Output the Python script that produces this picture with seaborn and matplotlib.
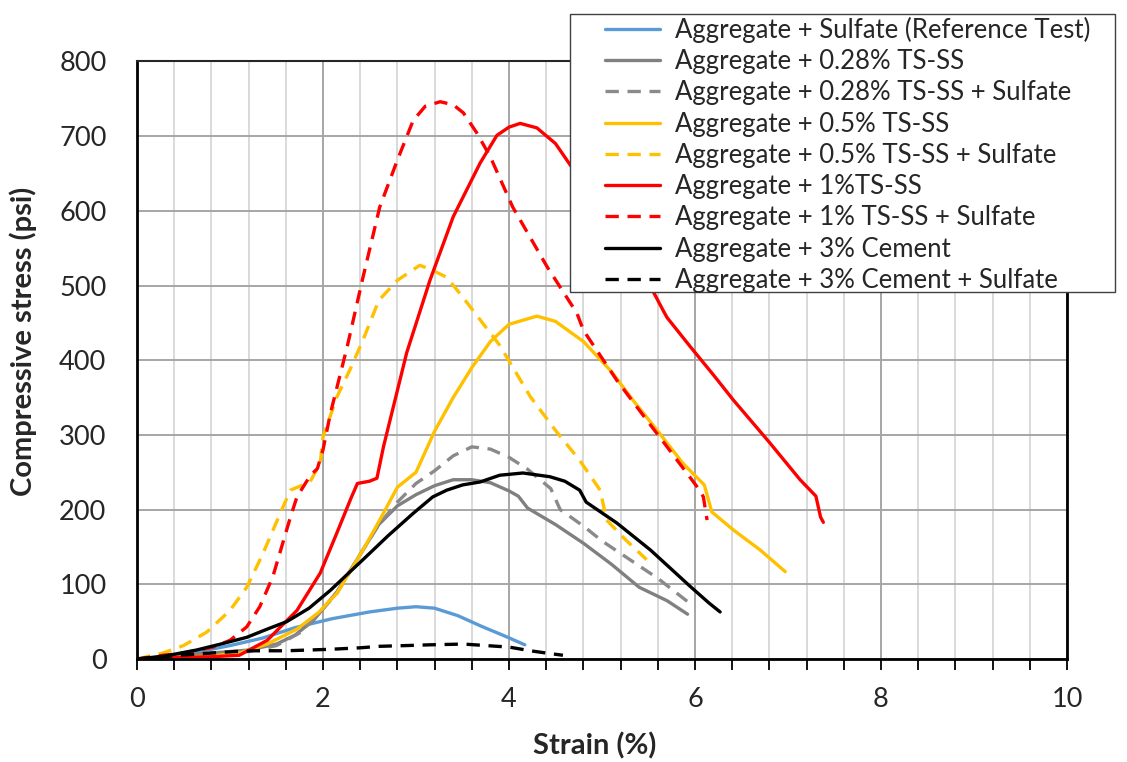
import numpy as np
import pandas as pd

import matplotlib.pyplot as plt
from matplotlib.patches import Rectangle
from matplotlib.ticker import MultipleLocator
import seaborn as sns

# %% data (strain %, stress psi)
ref_x = [0, 0.3, 0.6, 1.0, 1.35, 1.7, 2.1, 2.5, 2.8, 3.0, 3.2, 3.45, 3.7, 3.95, 4.17]
ref_y = [0, 3, 8, 18, 28, 42, 54, 63, 68, 70, 68, 58, 44, 31, 19]

ts028_x = [0, 0.4, 0.8, 1.2, 1.5, 1.7, 1.9, 2.15, 2.4, 2.6, 2.8, 3.0, 3.2, 3.4, 3.6,
           3.8, 4.0, 4.1, 4.2, 4.5, 4.8, 5.1, 5.4, 5.7, 5.92]
ts028_y = [0, 4, 8, 12, 20, 32, 52, 90, 140, 180, 205, 220, 232, 240, 240,
           236, 225, 218, 202, 180, 155, 127, 96, 78, 60]

ts028s_x = [0, 0.4, 0.8, 1.2, 1.5, 1.75, 1.95, 2.15, 2.4, 2.6, 2.8, 3.0, 3.2, 3.4, 3.6,
            3.8, 4.0, 4.2, 4.45, 4.55, 4.8, 5.0, 5.3, 5.6, 5.97]
ts028s_y = [0, 3, 6, 10, 18, 35, 60, 88, 140, 180, 210, 235, 252, 272, 284,
            281, 270, 254, 228, 200, 178, 158, 133, 108, 72]

ts05_x = [0, 0.4, 0.8, 1.1, 1.4, 1.72, 1.95, 2.15, 2.43, 2.61, 2.8, 3.0, 3.08, 3.2, 3.4,
          3.6, 3.8, 4.0, 4.3, 4.5, 4.8, 5.1, 5.33, 5.6, 5.87, 6.1, 6.18, 6.41, 6.7, 6.97]
ts05_y = [0, 2, 4, 8, 20, 40, 62, 88, 146, 186, 230, 250, 272, 305, 350,
          390, 425, 448, 459, 452, 425, 385, 347, 305, 262, 233, 197, 173, 146, 117]

ts05s_x = [0, 0.28, 0.5, 0.75, 1.0, 1.18, 1.35, 1.54, 1.65, 1.86, 1.97, 2.0, 2.15, 2.3,
           2.43, 2.6, 2.8, 3.04, 3.15, 3.33, 3.5, 3.69, 3.9, 4.23, 4.5, 4.76, 4.98, 5.05,
           5.25, 5.48]
ts05s_y = [0, 8, 18, 36, 65, 96, 140, 195, 226, 237, 262, 297, 351, 390,
           427, 480, 507, 527, 522, 511, 485, 454, 420, 351, 306, 266, 226, 186,
           160, 133]

ts1_x = [0, 0.4, 0.8, 1.1, 1.4, 1.72, 1.97, 2.15, 2.3, 2.37, 2.5, 2.58, 2.65, 2.9, 3.15,
         3.4, 3.69, 3.87, 4.0, 4.12, 4.3, 4.5, 4.66, 5.0, 5.3, 5.55, 5.66, 5.7, 5.95, 6.2,
         6.41, 6.8, 7.13, 7.3, 7.35, 7.38]
ts1_y = [0, 2, 3, 5, 25, 65, 115, 169, 215, 235, 238, 242, 284, 410, 507,
         592, 664, 701, 712, 717, 711, 690, 661, 600, 545, 492, 466, 457, 418, 380,
         347, 290, 240, 218, 190, 183]

ts1s_x = [0, 0.28, 0.5, 0.82, 1.0, 1.18, 1.32, 1.46, 1.65, 1.72, 1.86, 1.94, 2.0, 2.08,
          2.26, 2.43, 2.61, 2.8, 2.97, 3.1, 3.26, 3.4, 3.51, 3.65, 3.8, 4.04, 4.41, 4.73,
          4.8, 5.16, 5.45, 5.7, 6.05, 6.09, 6.13]
ts1s_y = [0, 5, 8, 16, 25, 43, 70, 110, 190, 217, 245, 255, 280, 329,
          418, 511, 605, 668, 721, 740, 746, 742, 731, 705, 672, 605, 525, 463,
          440, 373, 325, 284, 226, 217, 186]

cem3_x = [0, 0.3, 0.64, 0.9, 1.18, 1.4, 1.61, 1.85, 2.08, 2.25, 2.43, 2.7, 2.97, 3.18,
          3.33, 3.5, 3.69, 3.9, 4.15, 4.44, 4.6, 4.76, 4.83, 5.16, 5.52, 5.95, 6.15, 6.27]
cem3_y = [0, 4, 12, 20, 29, 40, 50, 68, 92, 112, 133, 165, 195, 217,
          226, 233, 237, 246, 249, 244, 238, 226, 210, 182, 146, 97, 75, 63]

cem3s_x = [0, 0.46, 0.8, 1.05, 1.25, 1.6, 2.08, 2.4, 2.61, 2.9, 3.15, 3.51, 3.87, 4.0,
           4.23, 4.4, 4.58]
cem3s_y = [0, 5, 8, 10, 11, 11, 13, 15, 17, 18, 19, 20, 17, 16, 11, 8, 5]

labels = [
    "Aggregate + Sulfate (Reference Test)",
    "Aggregate + 0.28% TS-SS",
    "Aggregate + 0.28% TS-SS + Sulfate",
    "Aggregate + 0.5% TS-SS",
    "Aggregate + 0.5% TS-SS + Sulfate",
    "Aggregate + 1%TS-SS",
    "Aggregate + 1% TS-SS + Sulfate",
    "Aggregate + 3% Cement",
    "Aggregate + 3% Cement + Sulfate",
]
xs = [ref_x, ts028_x, ts028s_x, ts05_x, ts05s_x, ts1_x, ts1s_x, cem3_x, cem3s_x]
ys = [ref_y, ts028_y, ts028s_y, ts05_y, ts05s_y, ts1_y, ts1s_y, cem3_y, cem3s_y]
colors = ["#5B9BD5", "#808080", "#8a8a8a", "#FFC000", "#FFC000",
          "#FF0000", "#FF0000", "#000000", "#000000"]
dashed = [False, False, True, False, True, False, True, False, True]

# %%
sns.set_theme(style="white")
plt.rcParams["font.family"] = ["Lato", "DejaVu Sans"]

W, H = 1127, 762
fig = plt.figure(figsize=(W / 100, H / 100), dpi=100)
ax = fig.add_axes([137 / W, 1 - 659 / H, (1067 - 137) / W, (659 - 61.4) / H])

for x, y, c, d, lab in zip(xs, ys, colors, dashed, labels):
    df = pd.DataFrame({"strain": x, "stress": y})
    sns.lineplot(
        data=df, x="strain", y="stress", ax=ax, color=c, linewidth=2.4,
        linestyle=(0, (4, 2.6)) if d else "-", label=lab,
        estimator=None, errorbar=None, legend=False,
    )

ax.set_xlim(0, 10)
ax.set_ylim(0, 800)
ax.xaxis.set_major_locator(MultipleLocator(2))
ax.xaxis.set_minor_locator(MultipleLocator(0.4))
ax.yaxis.set_major_locator(MultipleLocator(100))
ax.set_axisbelow(True)
ax.grid(which="major", color="#a6a6a6", linewidth=1.4)
ax.grid(which="minor", axis="x", color="#d9d9d9", linewidth=1.4)

for s in ["left", "bottom", "right"]:
    ax.spines[s].set_color("black")
    ax.spines[s].set_linewidth(2)
ax.spines["top"].set_color("#262626")
ax.spines["top"].set_linewidth(1.5)

ax.tick_params(axis="x", which="both", direction="out", length=8, width=1.3,
               color="black", bottom=True, labelsize=19.5, pad=12)
ax.tick_params(axis="y", which="major", left=True, length=0,
               labelsize=19.5, pad=22)
ax.set_xlabel("")
ax.set_ylabel("")

fig.text(595 / W, 1 - 746 / H, "Strain (%)", ha="center", va="center",
         fontsize=21, fontweight="bold")
fig.text(23 / W, 1 - 341 / H, "Compressive stress (psi)", ha="center", va="center",
         rotation=90, fontsize=21, fontweight="bold")

# legend box sticks out past the plot area, as in the reference
fig.patches.append(Rectangle((570 / W, 1 - 292 / H), (1115 - 570) / W, (292 - 14) / H,
                             transform=fig.transFigure, facecolor="white",
                             edgecolor="#404040", linewidth=1, zorder=5))
handles, labs = ax.get_legend_handles_labels()
leg = fig.legend(handles, labs, loc="upper left", bbox_to_anchor=(601 / W, 1 - 13 / H),
                 frameon=False, borderpad=0.14, borderaxespad=0, fontsize=18.5,
                 handlelength=2.15, handletextpad=0.58, labelspacing=0.245)
leg.set_zorder(6)

fig.savefig("out.png", dpi=100)
